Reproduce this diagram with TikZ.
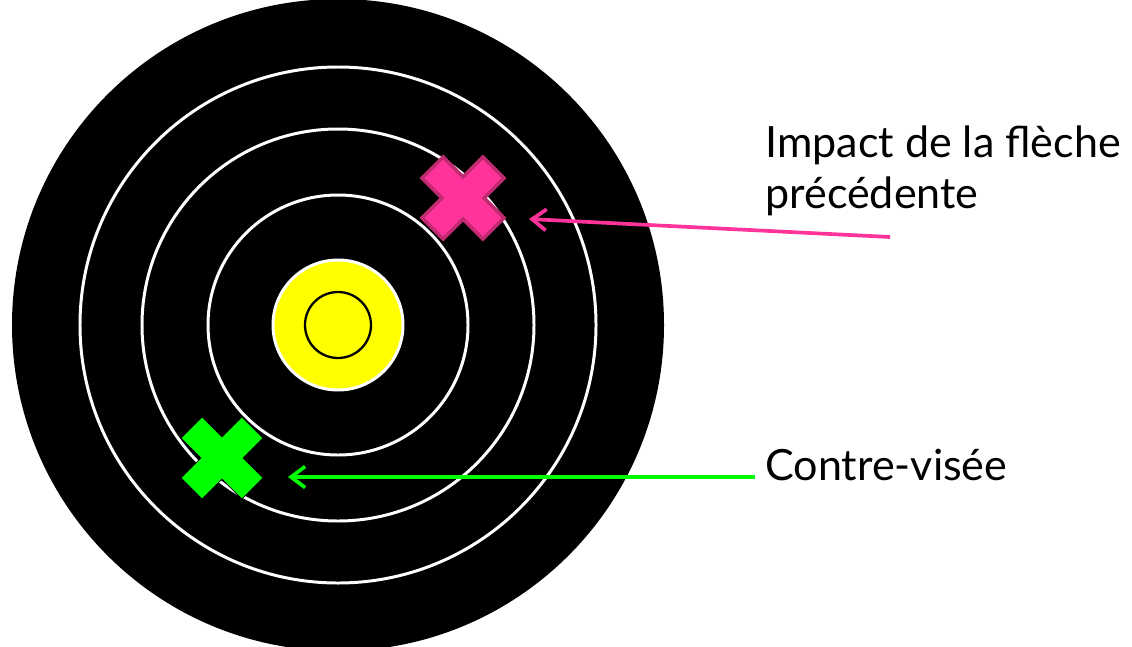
\documentclass[tikz,border=0pt]{standalone}
\usepackage{fontspec}
\setmainfont{Lato}
\usetikzlibrary{arrows.meta, positioning}
\definecolor{tgtyellow}{RGB}{255,255,0}
\definecolor{hitpink}{RGB}{255,51,153}
\definecolor{hitpinkdark}{RGB}{192,42,112}
\definecolor{aimgreen}{RGB}{0,255,0}
\tikzset{
  ring/.style={draw=white, line width=1.7pt},
  label/.style={font=\fontsize{24.5}{28.5}\selectfont, align=left, inner sep=0pt},
  pinkarrow/.style={-{Straight Barb[length=8pt, width=12pt]}, line width=2.1pt, color=hitpink},
  greenarrow/.style={-{Straight Barb[length=8pt, width=12pt]}, line width=2.1pt, color=aimgreen}
}
% cross: #1 centre, #2 style
\newcommand{\hitcross}[2]{%
  \begin{scope}[shift={#1}, rotate=45]
    \draw[#2] (43,15) -- (15,15) -- (15,43) -- (-15,43) -- (-15,15) -- (-43,15)
      -- (-43,-15) -- (-15,-15) -- (-15,-43) -- (15,-43) -- (15,-15) -- (43,-15) -- cycle;
  \end{scope}}

\begin{document}
\begin{tikzpicture}[x=0.02cm, y=-0.02cm]
  \useasboundingbox (0,0) rectangle (1132,646);
  % ── Target ──────────────────────────────────────────────────────────────────
  \fill[black] (338,325) circle (326);
  \draw[ring] (338,325) circle (258);
  \draw[ring] (338,325) circle (196);
  \draw[ring] (338,325) circle (130);
  \draw[ring, fill=tgtyellow] (338,325) circle (65);
  \draw[black, line width=1.3pt] (338,325) circle (33);

  % ── Crosses ─────────────────────────────────────────────────────────────────
  \hitcross{(463,198)}{fill=hitpink, draw=hitpinkdark, line width=2pt, line join=miter}
  \hitcross{(222,458)}{fill=aimgreen}

  % ── Labels ──────────────────────────────────────────────────────────────────
  \node[label, anchor=base west] (impact) at (765,208) {Impact de la flèche\\précédente};
  \node[label, anchor=base west] (contre) at (765,480) {Contre-visée};

  % Arrows
  \coordinate (pinktail) at (890,237);
  \coordinate (pinktip) at (529,219);
  \coordinate (greentail) at (755,477);
  \coordinate (greentip) at (288,477);
  \draw[pinkarrow] (pinktail) -- (pinktip);
  \draw[greenarrow] (greentail) -- (greentip);
\end{tikzpicture}
\end{document}
